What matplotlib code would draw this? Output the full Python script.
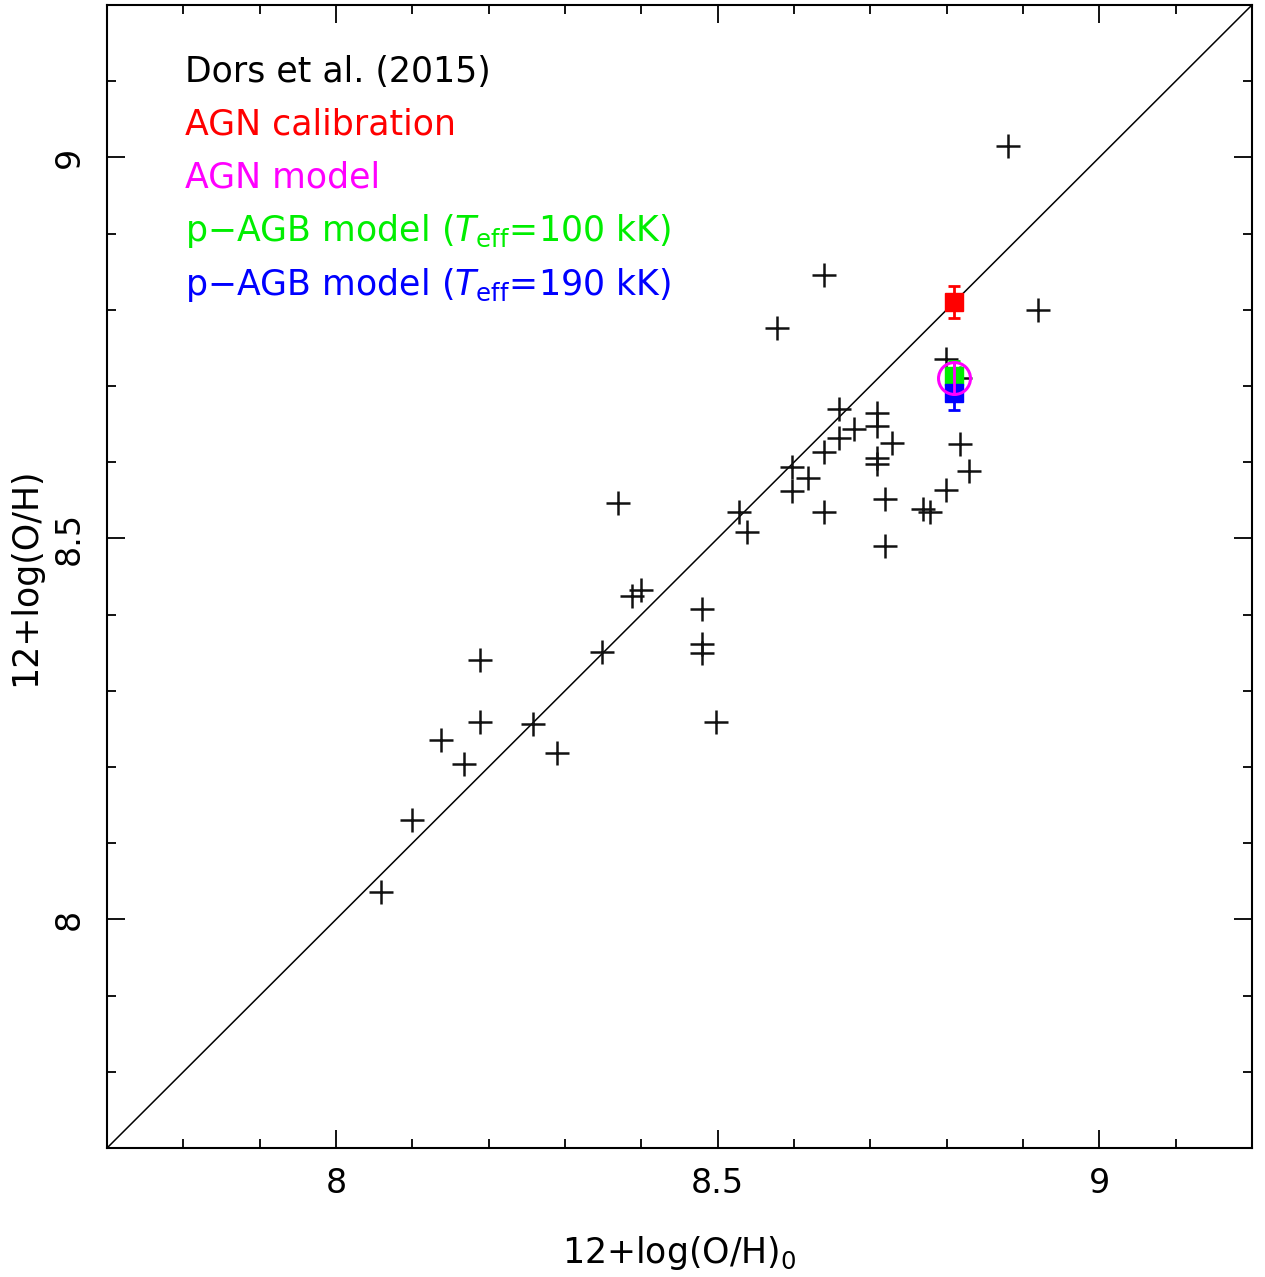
import numpy as np
import matplotlib
matplotlib.use("Agg")
import matplotlib.pyplot as plt

# Dors et al. (2015) points
x_dors = [8.881, 8.639, 8.920, 8.578, 8.799, 8.818, 8.659, 8.709, 8.678, 8.709,
          8.659, 8.729, 8.639, 8.818, 8.709, 8.709, 8.598, 8.829, 8.619, 8.598,
          8.799, 8.369, 8.719, 8.528, 8.639, 8.769, 8.778, 8.539, 8.719, 8.388,
          8.399, 8.479, 8.479, 8.479, 8.189, 8.349, 8.189, 8.258, 8.498, 8.138,
          8.289, 8.168, 8.099, 8.059]
y_dors = [9.015, 8.846, 8.800, 8.776, 8.736, 8.710, 8.670, 8.664, 8.644, 8.647,
          8.632, 8.625, 8.614, 8.624, 8.606, 8.598, 8.594, 8.589, 8.579, 8.562,
          8.564, 8.546, 8.552, 8.535, 8.535, 8.538, 8.535, 8.508, 8.490, 8.425,
          8.432, 8.407, 8.362, 8.350, 8.340, 8.351, 8.259, 8.257, 8.259, 8.235,
          8.219, 8.204, 8.131, 8.036]

# model / calibration points
x_calib, y_calib, err_calib = 8.809, 8.810, 0.021
x_agn, y_agn, err_agn = 8.809, 8.711, 0.021
x_pagb100, y_pagb100, err_pagb100 = 8.809, 8.713, 0.02
x_pagb190, y_pagb190, err_pagb190 = 8.809, 8.691, 0.022

labels = ["Dors et al. (2015)", "AGN calibration", "AGN model",
          r"p$-$AGB model ($T_{\rm eff}$=100 kK)",
          r"p$-$AGB model ($T_{\rm eff}$=190 kK)"]
label_colors = ["black", "#ff0000", "#ff00ff", "#00ee00", "#0000ff"]

lo, hi = 7.7, 9.2

fig = plt.figure(figsize=(12.65, 12.77), dpi=100)
ax = fig.add_axes([0.0846, 0.1010, 0.9051, 0.8951])

# one-to-one line
ax.plot([lo, hi], [lo, hi], color="black", lw=1.1)

ax.plot(x_dors, y_dors, "+", color="#111111", markersize=17, mew=1.8, zorder=3)

ax.errorbar(x_calib, y_calib, yerr=err_calib, fmt="s", color="#ff0000",
            markersize=13.5, capsize=4, elinewidth=2, capthick=2, zorder=4)
ax.errorbar(x_pagb100, y_pagb100, yerr=err_pagb100, fmt="s", color="#00ee00",
            markersize=13.5, capsize=4, elinewidth=2, capthick=2, zorder=4)
ax.errorbar(x_pagb190, y_pagb190, yerr=err_pagb190, fmt="s", color="#0000ff",
            markersize=13.5, capsize=4, elinewidth=2, capthick=2, zorder=4)
ax.errorbar(x_agn, y_agn, yerr=err_agn, fmt="o", color="#ff00ff", mfc="none",
            markersize=23, mew=2.2, capsize=0, elinewidth=2, zorder=5)

ax.set_xlim(lo, hi)
ax.set_ylim(lo, hi)
ax.set_xticks([8, 8.5, 9])
ax.set_xticklabels(["8", "8.5", "9"])
ax.set_yticks([8, 8.5, 9])
ax.set_yticklabels(["8", "8.5", "9"], rotation=90, va="center")
ax.set_xticks(np.arange(7.8, 9.2, 0.1), minor=True)
ax.set_yticks(np.arange(7.8, 9.2, 0.1), minor=True)
ax.tick_params(which="both", direction="in", top=True, right=True, width=1.3)
ax.tick_params(which="major", length=13, labelsize=24, pad=14)
ax.tick_params(which="minor", length=6.5)
ax.tick_params(axis="y", which="major", pad=15)
for s in ax.spines.values():
    s.set_linewidth(1.5)

ax.set_xlabel(r"12+log(O/H)$_{\rm 0}$", fontsize=25, labelpad=24)
ax.set_ylabel("12+log(O/H)", fontsize=25, labelpad=8)

ypos = [0.941, 0.895, 0.849, 0.802, 0.755]
for t, c, yp in zip(labels, label_colors, ypos):
    ax.text(0.068, yp, t, color=c, fontsize=25, transform=ax.transAxes,
            va="center", ha="left")

plt.savefig("out.png", dpi=100)
